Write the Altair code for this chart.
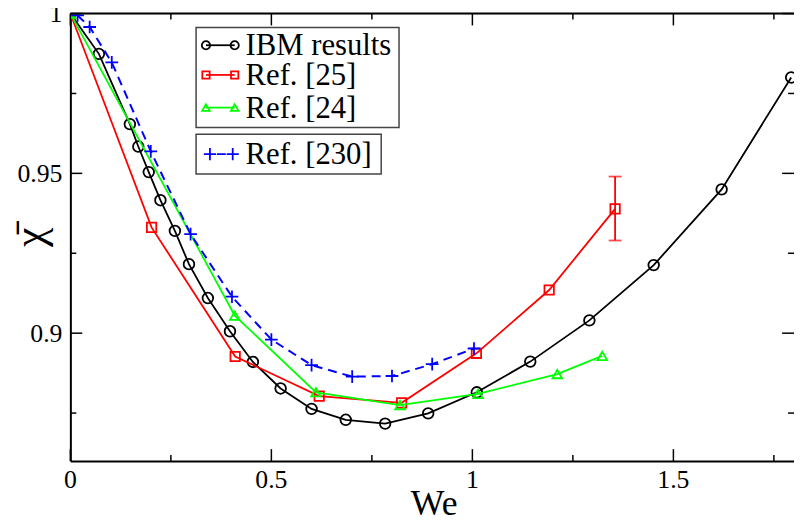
import altair as alt
import pandas as pd

FONT = "Liberation Serif"

# ---- data ----
ibm_we = [0.0, 0.071, 0.148, 0.169, 0.195, 0.224, 0.260, 0.295, 0.342, 0.397, 0.454,
          0.523, 0.600, 0.685, 0.783, 0.890, 1.011, 1.144, 1.291, 1.451, 1.620, 1.793]
ibm_chi = [1.0, 0.9874, 0.9654, 0.9584, 0.9504, 0.9416, 0.9320, 0.9216, 0.9110, 0.9006, 0.8910,
           0.8827, 0.8763, 0.8729, 0.8717, 0.8749, 0.8815, 0.8911, 0.9040, 0.9213, 0.9450, 0.9800]

r25_we = [0.0, 0.202, 0.410, 0.619, 0.824, 1.010, 1.191, 1.355]
r25_chi = [1.0, 0.9331, 0.8927, 0.8803, 0.8782, 0.8937, 0.9135, 0.9389]

r24_we = [0.0, 0.409, 0.611, 0.820, 1.014, 1.211, 1.323]
r24_chi = [1.0, 0.9055, 0.8815, 0.8775, 0.8810, 0.8872, 0.8929]

r230_we = [0.018, 0.048, 0.103, 0.200, 0.299, 0.402, 0.500, 0.600, 0.701, 0.800, 0.900, 1.004]
r230_chi = [0.9994, 0.9958, 0.9847, 0.9569, 0.9310, 0.9114, 0.8980, 0.8900, 0.8864, 0.8866, 0.8903, 0.8952]

err_we = [1.355]
err_lo = [0.929]
err_hi = [0.949]

x_major = [0, 0.5, 1.0, 1.5]
x_major_labels = ["0", "0.5", "1", "1.5"]
x_minor = [0.25, 0.75, 1.25, 1.75]
y_major = [0.9, 0.95, 1.0]
y_major_labels = ["0.9", "0.95", "1"]
y_minor = [0.875, 0.925, 0.975]

x_title = "We"
y_title = "\u03c7\u0304"
legend_labels = ["IBM results", "Ref. [25]", "Ref. [24]", "Ref. [230]"]

# ---- layout ----
W, H = 731, 452
xs = alt.Scale(domain=[0, 1.8], nice=False, zero=False)
ys = alt.Scale(domain=[0.86, 1.0], nice=False, zero=False)

x_axis = alt.Axis(values=x_major, ticks=False, tickSize=0, grid=False, labels=False,
                  domainColor="black", domainWidth=2, title=None)
y_axis = alt.Axis(values=y_major, ticks=False, tickSize=0, grid=False, labels=False,
                  domainColor="black", domainWidth=2, title=None)


def X(field):
    return alt.X(field, scale=xs, axis=x_axis)


def Y(field):
    return alt.Y(field, scale=ys, axis=y_axis)


def df(x, y):
    return pd.DataFrame({"We": x, "chi": y})


def series(x, y, color, shape, size, dash=None):
    d = df(x, y)
    line_kw = dict(color=color, strokeWidth=1.8, clip=True)
    if dash:
        line_kw["strokeDash"] = dash
        line_kw["strokeWidth"] = 2
    line = alt.Chart(d).mark_line(**line_kw).encode(x=X("We:Q"), y=Y("chi:Q"))
    pts = alt.Chart(d).mark_point(shape=shape, size=size, filled=False, color=color,
                                  strokeWidth=1.8, opacity=1, clip=True).encode(
        x=X("We:Q"), y=Y("chi:Q"))
    return [line, pts]


PLUS = "M-1,0L1,0M0,-1L0,1"
layers = []
layers += series(ibm_we, ibm_chi, "black", "circle", 115)
layers += series(r25_we, r25_chi, "#ff0000", "square", 90)
layers += series(r24_we, r24_chi, "#00ff00", "triangle-up", 95)
layers += series(r230_we, r230_chi, "#0000ff", PLUS, 165, dash=[9, 6])

# error bar
edf = pd.DataFrame({"We": err_we, "lo": err_lo, "hi": err_hi})
layers.append(alt.Chart(edf).mark_rule(color="#ff0000", strokeWidth=1.8).encode(
    x=X("We:Q"), y=Y("lo:Q"), y2="hi:Q"))
for f in ["lo", "hi"]:
    layers.append(alt.Chart(edf).mark_tick(color="#ff0000", orient="horizontal", size=13,
                                           thickness=1.8).encode(
        x=X("We:Q"), y=Y(f + ":Q")))


# inward ticks on all four sides
def xticks(vals, length):
    d = pd.DataFrame({"v": vals})
    b = alt.Chart(d).mark_rule(color="black", strokeWidth=1.5).encode(
        x=X("v:Q"), y=alt.value(H), y2=alt.value(H - length))
    t = alt.Chart(d).mark_rule(color="black", strokeWidth=1.5).encode(
        x=X("v:Q"), y=alt.value(0), y2=alt.value(length))
    return [b, t]


def yticks(vals, length):
    d = pd.DataFrame({"v": vals})
    l = alt.Chart(d).mark_rule(color="black", strokeWidth=1.5).encode(
        y=Y("v:Q"), x=alt.value(0), x2=alt.value(length))
    r = alt.Chart(d).mark_rule(color="black", strokeWidth=1.5).encode(
        y=Y("v:Q"), x=alt.value(W), x2=alt.value(W - length))
    return [l, r]


layers += xticks(x_major, 12) + xticks(x_minor, 6)
layers += yticks(y_major, 12) + yticks(y_minor, 6)

# tick labels as serif text, positioned through the scales
xl = pd.DataFrame({"v": x_major, "t": x_major_labels})
layers.append(alt.Chart(xl).mark_text(font=FONT, fontSize=26, color="black", align="center",
                                      baseline="alphabetic").encode(
    x=X("v:Q"), y=alt.value(H + 27), text="t:N"))
yl = pd.DataFrame({"v": y_major, "t": y_major_labels})
layers.append(alt.Chart(yl).mark_text(font=FONT, fontSize=26, color="black", align="right",
                                      baseline="alphabetic", dy=9).encode(
    y=Y("v:Q"), x=alt.value(-8), text="t:N"))

one = alt.Data(values=[{"a": 1}])
# top frame line
layers.append(alt.Chart(one).mark_rule(color="black", strokeWidth=2).encode(
    x=alt.value(0), x2=alt.value(W), y=alt.value(0)))

# axis titles
layers.append(alt.Chart(one).mark_text(text=x_title, font=FONT, fontSize=36, color="black",
                                       align="center", baseline="alphabetic").encode(
    x=alt.value(W / 2 + 2), y=alt.value(H + 55)))
layers.append(alt.Chart(one).mark_text(text=y_title, font=FONT, fontSize=44, angle=270,
                                       color="black", align="center", baseline="middle").encode(
    x=alt.value(-40), y=alt.value(226)))

# legend boxes
for (x1, x2, y1, y2) in [(127, 332, 14, 115), (127, 314, 122, 162)]:
    layers.append(alt.Chart(one).mark_rect(fill="white", stroke="#444444", strokeWidth=1.5).encode(
        x=alt.value(x1), x2=alt.value(x2), y=alt.value(y1), y2=alt.value(y2)))

leg_specs = [("black", "circle", 70, None, 32),
             ("#ff0000", "square", 55, None, 62),
             ("#00ff00", "triangle-up", 60, None, 95),
             ("#0000ff", PLUS, 150, [9, 6], 142)]
for lab, (col, shp, sz, dash, yy) in zip(legend_labels, leg_specs):
    rk = dict(color=col, strokeWidth=1.8)
    if dash is None:
        layers.append(alt.Chart(one).mark_rule(**rk).encode(
            x=alt.value(137), x2=alt.value(166), y=alt.value(yy)))
    else:
        layers.append(alt.Chart(one).mark_rule(**rk).encode(
            x=alt.value(148), x2=alt.value(157), y=alt.value(yy)))
    for px in ([137, 166] if dash is None else [141, 164]):
        layers.append(alt.Chart(one).mark_point(shape=shp, size=sz, filled=False, color=col,
                                                strokeWidth=1.8, opacity=1).encode(
            x=alt.value(px), y=alt.value(yy)))
    layers.append(alt.Chart(one).mark_text(text=lab, font=FONT, fontSize=31, color="black",
                                           align="left", baseline="middle").encode(
        x=alt.value(177), y=alt.value(yy + 1)))

chart = alt.layer(*layers).properties(
    width=W, height=H,
    autosize=alt.AutoSizeParams(type="none"),
    padding={"left": 63, "top": 3, "right": 0, "bottom": 60},
).configure_view(stroke=None).configure(background="white")

chart.save("out.html", embed_options={"renderer": "svg", "actions": False})
